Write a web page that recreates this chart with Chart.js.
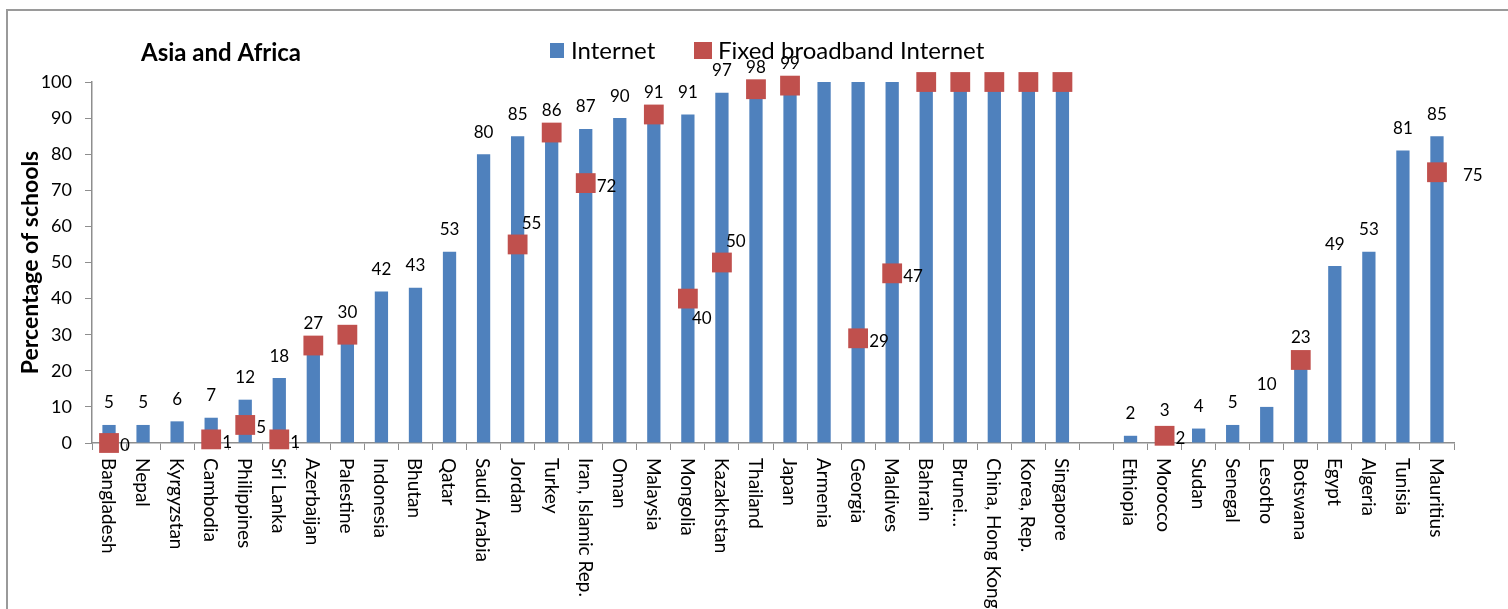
<!DOCTYPE html>
<html>
<head>
<meta charset="utf-8">
<script src="https://cdn.jsdelivr.net/npm/chart.js@4.4.1/dist/chart.umd.min.js"></script>
<style>
  html, body { margin: 0; padding: 0; background: #fff; }
</style>
</head>
<body>
<canvas id="schoolsChart" width="1508" height="609"></canvas>
<script>
const countries = [
  'Bangladesh', 'Nepal', 'Kyrgyzstan', 'Cambodia', 'Philippines', 'Sri Lanka', 'Azerbaijan',
  'Palestine', 'Indonesia', 'Bhutan', 'Qatar', 'Saudi Arabia', 'Jordan', 'Turkey',
  'Iran, Islamic Rep.', 'Oman', 'Malaysia', 'Mongolia', 'Kazakhstan', 'Thailand', 'Japan',
  'Armenia', 'Georgia', 'Maldives', 'Bahrain', 'Brunei…', 'China, Hong Kong', 'Korea, Rep.',
  'Singapore', '', 'Ethiopia', 'Morocco', 'Sudan', 'Senegal', 'Lesotho', 'Botswana', 'Egypt',
  'Algeria', 'Tunisia', 'Mauritius'
];

const internet = [
  5, 5, 6, 7, 12, 18, 27, 30, 42, 43, 53, 80, 85, 86, 87, 90, 91, 91, 97, 98, 99,
  100, 100, 100, 100, 100, 100, 100, 100, null, 2, 3, 4, 5, 10, 23, 49, 53, 81, 85
];

const broadband = [
  0, null, null, 1, 5, 1, 27, 30, null, null, null, null, 55, 86, 72, null, 91, 40, 50, 98, 99,
  null, 29, 47, 100, 100, 100, 100, 100, null, null, 2, null, null, null, 23, null, null, null, 75
];

const yTicks = [0, 10, 20, 30, 40, 50, 60, 70, 80, 90, 100];

// where Excel nudged a few of the broadband labels
const labelNudge = { 'Jordan': 'above', 'Kazakhstan': 'above', 'Mongolia': 'below', 'Mauritius': 'far' };

const blue = '#4F81BD';
const red = '#C0504D';
const axisGrey = '#8e8e8e';
const font = 'Lato, "Open Sans", sans-serif';

const decor = {
  id: 'decor',
  beforeDraw(chart) {
    const ctx = chart.ctx;
    ctx.save();
    ctx.strokeStyle = '#9a9a9a';
    ctx.lineWidth = 2;
    ctx.strokeRect(7, 10, 1600, 700);
    ctx.restore();
  },
  afterDatasetsDraw(chart) {
    const ctx = chart.ctx;
    const bars = chart.getDatasetMeta(0).data;
    const pts = chart.getDatasetMeta(1).data;
    ctx.save();
    ctx.fillStyle = '#000';
    ctx.font = '17px ' + font;
    ctx.textBaseline = 'middle';

    ctx.textAlign = 'center';
    bars.forEach((bar, i) => {
      const v = internet[i];
      if (v == null || v === 100) return;
      ctx.fillText(String(v), bar.x, bar.y - 22);
    });

    ctx.textAlign = 'left';
    pts.forEach((pt, i) => {
      const v = broadband[i];
      if (v == null || v === internet[i]) return;
      const nudge = labelNudge[countries[i]];
      let x = pt.x + 11, y = pt.y + 3;
      if (nudge === 'above') { x = pt.x + 4; y = pt.y - 21; }
      if (nudge === 'below') { x = pt.x + 4; y = pt.y + 20; }
      if (nudge === 'far') { x = pt.x + 26; }
      ctx.fillText(String(v), x, y);
    });
    ctx.restore();
  },
  afterDraw(chart) {
    const ctx = chart.ctx;
    const xs = chart.scales.x;
    ctx.save();
    ctx.fillStyle = '#000';

    // rotated category labels, reading top to bottom
    ctx.font = '19px ' + font;
    ctx.textAlign = 'left';
    ctx.textBaseline = 'middle';
    countries.forEach((c, i) => {
      if (!c) return;
      ctx.save();
      ctx.translate(xs.getPixelForValue(i) - 1, 458);
      ctx.rotate(Math.PI / 2);
      ctx.fillText(c, 0, 0);
      ctx.restore();
    });

    // title
    ctx.font = 'bold 24px ' + font;
    ctx.textBaseline = 'alphabetic';
    ctx.fillText('Asia and Africa', 141, 61);

    // y axis title
    ctx.save();
    ctx.translate(31, (chart.chartArea.top + chart.chartArea.bottom) / 2);
    ctx.rotate(-Math.PI / 2);
    ctx.textAlign = 'center';
    ctx.textBaseline = 'middle';
    ctx.font = 'bold 23px ' + font;
    ctx.fillText('Percentage of schools', 0, 0);
    ctx.restore();

    // legend
    ctx.font = '24px ' + font;
    ctx.textBaseline = 'middle';
    ctx.fillStyle = blue;
    ctx.fillRect(550, 43, 14, 15);
    ctx.fillStyle = '#000';
    ctx.fillText('Internet', 571, 51);
    ctx.fillStyle = red;
    ctx.fillRect(694, 42, 18, 17);
    ctx.fillStyle = '#000';
    ctx.fillText('Fixed broadband Internet', 718, 51);
    ctx.restore();
  }
};

const ctx = document.getElementById('schoolsChart').getContext('2d');
new Chart(ctx, {
  data: {
    labels: countries,
    datasets: [
      {
        type: 'bar',
        label: 'Internet',
        data: internet,
        backgroundColor: blue,
        barPercentage: 0.39,
        categoryPercentage: 1,
        order: 2
      },
      {
        type: 'line',
        label: 'Fixed broadband Internet',
        data: broadband,
        showLine: false,
        pointStyle: 'rect',
        pointRadius: 14,
        pointBackgroundColor: red,
        pointBorderColor: red,
        pointBorderWidth: 0,
        clip: false,
        order: 1
      }
    ]
  },
  options: {
    responsive: false,
    animation: false,
    devicePixelRatio: 1,
    layout: { padding: { left: 0, top: 82, right: 54, bottom: 0 } },
    plugins: { legend: { display: false }, tooltip: { enabled: false } },
    scales: {
      x: {
        grid: { drawOnChartArea: false, tickLength: 7, color: axisGrey, offset: true },
        border: { color: axisGrey, width: 1.5 },
        ticks: { autoSkip: false, maxRotation: 0, callback: () => '' },
        afterFit: s => { s.height = 166; }
      },
      y: {
        min: 0,
        max: 100,
        afterBuildTicks: s => { s.ticks = yTicks.map(v => ({ value: v })); },
        grid: { drawOnChartArea: false, tickLength: 7, color: axisGrey },
        border: { color: axisGrey, width: 1.5 },
        ticks: { color: '#000', padding: 13, font: { family: 'Lato', size: 18 } },
        afterFit: s => { s.width = 92; }
      }
    }
  },
  plugins: [decor]
});
</script>
</body>
</html>
